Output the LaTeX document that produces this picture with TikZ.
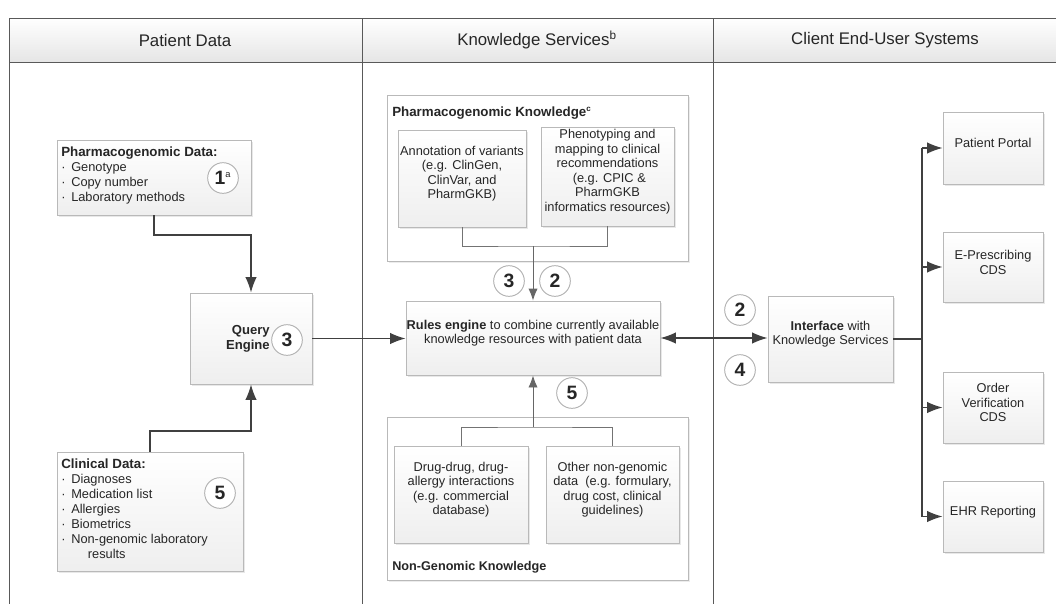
\documentclass[tikz,border=0pt]{standalone}
\usepackage{fontspec}
\setmainfont{Liberation Sans}
\usetikzlibrary{fit,shadows,arrows.meta,calc}
\tikzset{
  box/.style={draw=gray!55, line width=0.7pt, top color=white, bottom color=gray!13,
    drop shadow={opacity=0.18, shadow xshift=1.2pt, shadow yshift=-1.2pt},
    inner sep=0pt, font=\fontsize{9.6}{10.9}\selectfont, align=center, text=black!85},
  group/.style={draw=gray!55, line width=0.7pt, fill=white,
    drop shadow={opacity=0.15, shadow xshift=1.2pt, shadow yshift=-1.2pt}, inner sep=0pt},
  num/.style={circle, draw=gray!60, fill=white, line width=0.7pt, minimum size=23pt,
    inner sep=0pt, font=\fontsize{14.5}{14.5}\bfseries\selectfont, text=black!85},
  conn/.style={draw=black!75, line width=1pt},
  tip/.style={-{Latex[length=11.5pt,width=8.5pt]}},
  arr/.style={conn, tip},
  frameline/.style={draw=black!65, line width=0.7pt},
  hdr/.style={font=\fontsize{12.6}{14}\selectfont, text=black!85},
  lbl/.style={font=\fontsize{9.6}{11.25}\selectfont, text=black!85, align=left, inner sep=0pt},
  gtitle/.style={font=\fontsize{9.5}{11}\bfseries\selectfont, text=black!85, inner sep=0pt},
}
\newcommand{\bul}{\makebox[7.5pt][l]{·}}
\begin{document}
\begin{tikzpicture}[x=0.75pt,y=-0.75pt]
\useasboundingbox (0,0) rectangle (1056,604);
% header band and frame
\shade[top color=white, bottom color=gray!20] (9,18) rectangle (1056,62);
\draw[frameline] (1056,18) -- (9,18) -- (9,604);
\draw[frameline] (9,62) -- (1056,62);
\draw[frameline] (362,18) -- (362,604);
\draw[frameline] (713,18) -- (713,604);
\node[hdr] (h1) at (185,40) {Patient Data};
\node[hdr] (h2) at (537,40) {Knowledge Services\textsuperscript{b}};
\node[hdr] (h3) at (885,40) {Client End-User Systems};

% Patient data column
\node[box, fit={(57,140) (251,215)}] (pgx) {};
\node[lbl, anchor=north west] (pgxt) at (61,147) {\textbf{\fontsize{10}{11.25}\selectfont Pharmacogenomic Data:}\\\bul Genotype\\\bul Copy number\\\bul Laboratory methods};
\node[num] (c1) at (223,178) {1\textsuperscript{\fontsize{7}{7}\mdseries a}};

\node[box, fit={(190,293) (312,384)}] (qe) {};
\node[lbl, align=right, anchor=east, font=\fontsize{9.8}{11.25}\bfseries\selectfont] (qet) at (270,339) {Query\\Engine};
\node[num] (c3q) at (287,340) {3};

\node[box, fit={(57,452) (243,571)}] (clin) {};
\node[lbl, anchor=north west] (clint) at (61,459) {\textbf{\fontsize{10}{11.25}\selectfont Clinical Data:}\\\bul Diagnoses\\\bul Medication list\\\bul Allergies\\\bul Biometrics\\\bul Non-genomic laboratory\\\hspace{20pt}results};
\node[num] (c5c) at (220,493) {5};

\coordinate (j1) at (251,235);
\coordinate (j2) at (251,431);
\draw[arr] (pgx.south) |- (j1) -- (qe.north);
\draw[arr] (clin.north) |- (j2) -- (qe.south);

% Knowledge services column
\node[group, fit={(387,95) (688,261)}] (pgk) {};
\node[gtitle, anchor=west, font=\fontsize{10}{11}\bfseries\selectfont] (pgkt) at (392,113) {Pharmacogenomic Knowledge\textsuperscript{\fontsize{6}{6}\selectfont c}};
\node[box, fit={(398,130) (526,227)}] (ann) {Annotation of variants\\(e.g. ClinGen,\\ClinVar, and\\PharmGKB)};
\node[box, fit={(541,127) (674,226)}] (phe) {Phenotyping and\\mapping to clinical\\recommendations\\~(e.g. CPIC \&\\PharmGKB\\informatics resources)};

\node[group, fit={(387,417) (688,580)}] (ngk) {};
\node[gtitle, anchor=west] (ngkt) at (392,567) {Non-Genomic Knowledge};
\node[box, fit={(394,446) (528,543)}] (dd) {Drug-drug, drug-\\allergy interactions\\(e.g. commercial\\database)};
\node[box, fit={(546,446) (679,543)}] (oth) {Other non-genomic\\data~~(e.g. formulary,\\drug cost, clinical\\guidelines)};

\node[box, fit={(406,301) (660,375)}] (rules) {\textbf{Rules engine} to combine currently available\\knowledge resources with patient data};

\coordinate (j3) at (533,246);
\coordinate (j4) at (533,427);
\draw[conn, draw=black!55, line width=0.7pt] (ann.south) |- (j3) -| (phe.south);
\draw[conn, draw=black!60, line width=0.7pt, -{Latex[length=9pt,width=7pt]}] (j3) -- (rules.north);
\draw[conn, draw=black!55, line width=0.7pt] (dd.north) |- (j4) -| (oth.north);
\draw[conn, draw=black!60, line width=0.7pt, -{Latex[length=9pt,width=7pt]}] (j4) -- (rules.south);
\node[num] (c3r) at (509,281) {3};
\node[num] (c2r) at (555,281) {2};
\node[num] (c5r) at (572,393) {5};

\draw[arr] (qe.east) -- (rules.west |- qe.east);

% Client end-user systems
\node[box, fit={(768,296) (893,382)}] (iface) {\textbf{Interface} with\\Knowledge Services};
\draw[conn, {Latex[length=11.5pt,width=8.5pt]}-{Latex[length=11.5pt,width=8.5pt]}] (rules.east) -- (iface.west |- rules.east);
\node[num] (c2i) at (740,310) {2};
\node[num] (c4i) at (740,370) {4};

\node[box, fit={(943,112) (1043,184)}] (pp) {Patient Portal};
\node[box, fit={(943,232) (1043,302)}] (ep) {E-Prescribing\\CDS};
\node[box, fit={(943,372) (1043,443)}] (ov) {Order\\Verification\\CDS};
\node[box, fit={(943,481) (1043,552)}] (ehr) {EHR Reporting};

\coordinate (tr) at (922,339);
\draw[conn] (iface.east) -- (tr);
\draw[conn] (pp.west -| tr) -- (ehr.west -| tr);
\draw[arr] (pp.west -| tr) -- (pp.west);
\draw[arr] (ep.west -| tr) -- (ep.west);
\draw[arr] (ov.west -| tr) -- (ov.west);
\draw[arr] (ehr.west -| tr) -- (ehr.west);
\end{tikzpicture}
\end{document}
